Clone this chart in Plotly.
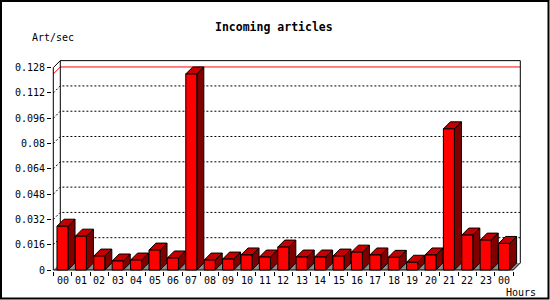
import plotly.graph_objects as go

# ---- data ----
hours = ["00", "01", "02", "03", "04", "05", "06", "07", "08", "09", "10", "11",
         "12", "13", "14", "15", "16", "17", "18", "19", "20", "21", "22", "23", "00"]
values = [0.0277, 0.0214, 0.0088, 0.0057, 0.0063, 0.0126, 0.0076, 0.1240, 0.0063,
          0.0069, 0.0095, 0.0082, 0.0145, 0.0082, 0.0082, 0.0088, 0.0113, 0.0095,
          0.0080, 0.0049, 0.0095, 0.0893, 0.0221, 0.0189, 0.0168]
ytick_vals = [0, 0.016, 0.032, 0.048, 0.064, 0.08, 0.096, 0.112, 0.128]
ytick_text = ["0", "0.016", "0.032", "0.048", "0.064", "0.08", "0.096", "0.112", "0.128"]
title = "Incoming articles"
ylabel = "Art/sec"
xlabel = "Hours"

# ---- geometry ----
WIDTH, HEIGHT = 550, 300
L, R, T, B = 52, 28, 58, 29
PW, PH = WIDTH - L - R, HEIGHT - T - B
PX_X = 18.4            # pixels per category
PX_Y = 1581.0          # pixels per unit
x_lo = -0.5 - 1.3 / PX_X
x_hi = x_lo + PW / PX_X
y_lo = -1.0 / PX_Y
y_hi = y_lo + PH / PX_Y
DX = 7 / PX_X          # depth offset (data units)
DY = 7 / PX_Y
n = len(values)
ymax_axis = ytick_vals[-1]
HALF = 0.3
FONT = "DejaVu Sans Mono"


def px2paper(px, py):
    return (px - L) / PW, (HEIGHT - B - py) / PH


fig = go.Figure()

# floor
fx = [-0.5, n - 0.5, n - 0.5 + DX, -0.5 + DX, -0.5]
fy = [0, 0, DY, DY, 0]
fig.add_trace(go.Scatter(x=fx, y=fy, mode="lines", fill="toself",
                         fillcolor="#8c8c8c", line=dict(width=0), hoverinfo="skip"))

# grid lines on back wall + left-wall stubs
gx, gy = [], []
for v in ytick_vals[1:-1]:
    gx += [-0.5, -0.5 + DX, n - 0.5 + DX, None]
    gy += [v, v + DY, v + DY, None]
fig.add_trace(go.Scatter(x=gx, y=gy, mode="lines",
                         line=dict(color="black", width=1, dash="2px,2px"), hoverinfo="skip"))

# max line
vmax = max(values)
fig.add_trace(go.Scatter(x=[-0.5, -0.5 + DX, n - 0.5 + DX], y=[vmax, vmax + DY, vmax + DY],
                         mode="lines", line=dict(color="red", width=1), hoverinfo="skip"))

# walls / frame of chart
wx = [-0.5, -0.5, -0.5 + DX, n - 0.5 + DX, n - 0.5 + DX, n - 0.5, -0.5, None,
      -0.5 + DX, -0.5 + DX]
wy = [0, ymax_axis, ymax_axis + DY, ymax_axis + DY, DY, 0, 0, None,
      DY, ymax_axis + DY]
fig.add_trace(go.Scatter(x=wx, y=wy, mode="lines",
                         line=dict(color="black", width=1), hoverinfo="skip"))

# 3D bars
sx, sy, tx, ty, ffx, ffy = [], [], [], [], [], []
for i, v in enumerate(values):
    x0, x1 = i - HALF, i + HALF
    sx += [x1, x1 + DX, x1 + DX, x1, x1, None]
    sy += [0, DY, v + DY, v, 0, None]
    tx += [x0, x1, x1 + DX, x0 + DX, x0, None]
    ty += [v, v, v + DY, v + DY, v, None]
    ffx += [x0, x1, x1, x0, x0, None]
    ffy += [0, 0, v, v, 0, None]
for xs, ys, col in [(sx, sy, "#800000"), (tx, ty, "#c40000"), (ffx, ffy, "#ff0000")]:
    fig.add_trace(go.Scatter(x=xs, y=ys, mode="lines", fill="toself", fillcolor=col,
                             line=dict(color="black", width=1), hoverinfo="skip"))

# x category labels
for i, h in enumerate(hours):
    fig.add_annotation(x=i, xref="x", y=px2paper(0, 280)[1], yref="paper",
                       text=h, showarrow=False, xanchor="center", yanchor="middle",
                       font=dict(family=FONT, size=10, color="black"))

# texts
tx_, ty_ = px2paper(274, 27)
fig.add_annotation(x=tx_, y=ty_, xref="paper", yref="paper", text="<b>" + title + "</b>",
                   showarrow=False, xanchor="center", yanchor="middle",
                   font=dict(family=FONT, size=11.5, color="black"))
ax_, ay_ = px2paper(30, 37.5)
fig.add_annotation(x=ax_, y=ay_, xref="paper", yref="paper", text=ylabel,
                   showarrow=False, xanchor="left", yanchor="middle",
                   font=dict(family=FONT, size=10, color="black"))
hx_, hy_ = px2paper(504, 292)
fig.add_annotation(x=hx_, y=hy_, xref="paper", yref="paper", text=xlabel,
                   showarrow=False, xanchor="left", yanchor="middle",
                   font=dict(family=FONT, size=10, color="black"))

# outer border
bx0, by0 = px2paper(1, 1)
bx1, by1 = px2paper(548.5, 298.5)
fig.add_shape(type="rect", xref="paper", yref="paper", x0=bx0, y0=by0, x1=bx1, y1=by1,
              line=dict(color="black", width=2), fillcolor="rgba(0,0,0,0)")

fig.update_layout(
    width=WIDTH, height=HEIGHT,
    margin=dict(l=L, r=R, t=T, b=B, pad=0),
    paper_bgcolor="white", plot_bgcolor="white",
    showlegend=False,
    xaxis=dict(range=[x_lo, x_hi], showgrid=False, zeroline=False, showline=False,
               tickmode="array", tickvals=[i - 0.5 for i in range(n + 1)],
               ticktext=[""] * (n + 1), ticks="outside", ticklen=4, tickwidth=1,
               tickcolor="black", fixedrange=True),
    yaxis=dict(range=[y_lo, y_hi], showgrid=False, zeroline=False, showline=False,
               tickmode="array", tickvals=ytick_vals, ticktext=ytick_text,
               ticks="outside", ticklen=4, tickwidth=1, tickcolor="black",
               tickfont=dict(family=FONT, size=10, color="black"), fixedrange=True),
)

fig.write_html("out.html")
